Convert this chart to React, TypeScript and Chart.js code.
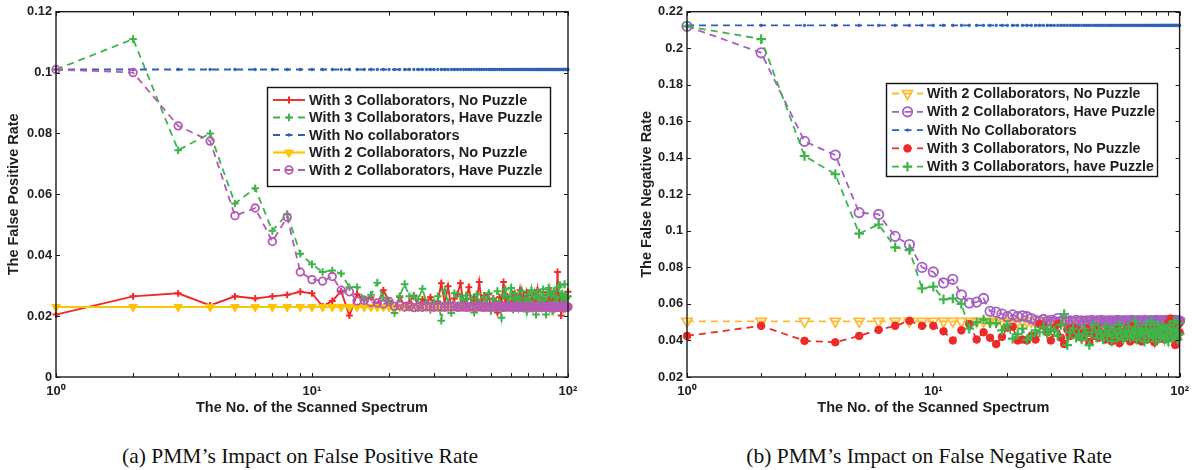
import React, { useEffect, useRef } from 'react';
import { Chart, registerables } from 'chart.js';
import { drawPoint } from 'chart.js/helpers';

Chart.register(...registerables);

// ---------- data ----------
const spectrumCount = [
  1, 2, 3, 4, 5, 6, 7, 8, 9, 10,
  11, 12, 13, 14, 15, 16, 17, 18, 19, 20,
  21, 22, 23, 24, 25, 26, 27, 28, 29, 30,
  31, 32, 33, 34, 35, 36, 37, 38, 39, 40,
  41, 42, 43, 44, 45, 46, 47, 48, 49, 50,
  51, 52, 53, 54, 55, 56, 57, 58, 59, 60,
  61, 62, 63, 64, 65, 66, 67, 68, 69, 70,
  71, 72, 73, 74, 75, 76, 77, 78, 79, 80,
  81, 82, 83, 84, 85, 86, 87, 88, 89, 90,
  91, 92, 93, 94, 95, 96, 97, 98, 99, 100,
];

const xTickValues = [1, 2, 3, 4, 5, 6, 7, 8, 9, 10, 20, 30, 40, 50, 60, 70, 80, 90, 100];
const xTickLabels = ['10\u2070', '10\u00B9', '10\u00B2'];
const fprTicks = [0, 0.02, 0.04, 0.06, 0.08, 0.1, 0.12];
const fnrTicks = [0.02, 0.04, 0.06, 0.08, 0.1, 0.12, 0.14, 0.16, 0.18, 0.2, 0.22];

// (a) false positive rate
const fpr3NoPuzzle = [
  0.0205, 0.0265, 0.0275, 0.0235, 0.0265, 0.0258, 0.0265, 0.027, 0.028, 0.0275,
  0.0232, 0.025, 0.0282, 0.0202, 0.0272, 0.0255, 0.0262, 0.0238, 0.0285, 0.025,
  0.0228, 0.0262, 0.0235, 0.0245, 0.0268, 0.0232, 0.0255, 0.0245, 0.0262, 0.0238,
  0.0248, 0.0308, 0.0242, 0.0298, 0.0225, 0.0258, 0.0272, 0.0308, 0.0248, 0.0255,
  0.0295, 0.0238, 0.0262, 0.0248, 0.0312, 0.0242, 0.0268, 0.0238, 0.0272, 0.0222,
  0.0258, 0.0248, 0.0212, 0.0262, 0.0245, 0.0312, 0.0238, 0.0265, 0.0248, 0.0228,
  0.0272, 0.0245, 0.0262, 0.0228, 0.0285, 0.0242, 0.0265, 0.0232, 0.0278, 0.0248,
  0.0238, 0.0268, 0.0228, 0.0275, 0.0245, 0.0285, 0.0232, 0.0262, 0.0242, 0.0278,
  0.0252, 0.0228, 0.0268, 0.0238, 0.0282, 0.0242, 0.0262, 0.0228, 0.0275, 0.0245,
  0.0345, 0.0235, 0.0268, 0.0202, 0.0255, 0.0242, 0.0265, 0.0232, 0.0262, 0.028,
];
const fpr3Puzzle = [
  0.101, 0.111, 0.0745, 0.08, 0.057, 0.062, 0.048, 0.0535, 0.0405, 0.037,
  0.0345, 0.035, 0.034, 0.0295, 0.0295, 0.0255, 0.027, 0.031, 0.026, 0.0245,
  0.021, 0.0265, 0.0305, 0.0265, 0.0265, 0.0255, 0.029, 0.0245, 0.022, 0.0245,
  0.0265, 0.0185, 0.0285, 0.0245, 0.021, 0.0275, 0.0235, 0.0265, 0.0252, 0.0268,
  0.0225, 0.0258, 0.0212, 0.0272, 0.0245, 0.0228, 0.0262, 0.0242, 0.0275, 0.0218,
  0.0255, 0.0235, 0.0282, 0.0245, 0.0195, 0.0268, 0.0288, 0.0238, 0.0258, 0.0292,
  0.0222, 0.0275, 0.0245, 0.0262, 0.0228, 0.0282, 0.0235, 0.0258, 0.0215, 0.0272,
  0.0248, 0.0285, 0.0232, 0.0265, 0.0205, 0.0278, 0.0242, 0.0262, 0.0225, 0.0288,
  0.0252, 0.0205, 0.0272, 0.0292, 0.0235, 0.0268, 0.0215, 0.0282, 0.0245, 0.0262,
  0.0228, 0.0295, 0.0302, 0.0242, 0.0275, 0.0222, 0.0305, 0.0258, 0.0238, 0.0265,
];
const fprNoCollab = [
  0.101, 0.101, 0.101, 0.101, 0.101, 0.101, 0.101, 0.101, 0.101, 0.101,
  0.101, 0.101, 0.101, 0.101, 0.101, 0.101, 0.101, 0.101, 0.101, 0.101,
  0.101, 0.101, 0.101, 0.101, 0.101, 0.101, 0.101, 0.101, 0.101, 0.101,
  0.101, 0.101, 0.101, 0.101, 0.101, 0.101, 0.101, 0.101, 0.101, 0.101,
  0.101, 0.101, 0.101, 0.101, 0.101, 0.101, 0.101, 0.101, 0.101, 0.101,
  0.101, 0.101, 0.101, 0.101, 0.101, 0.101, 0.101, 0.101, 0.101, 0.101,
  0.101, 0.101, 0.101, 0.101, 0.101, 0.101, 0.101, 0.101, 0.101, 0.101,
  0.101, 0.101, 0.101, 0.101, 0.101, 0.101, 0.101, 0.101, 0.101, 0.101,
  0.101, 0.101, 0.101, 0.101, 0.101, 0.101, 0.101, 0.101, 0.101, 0.101,
  0.101, 0.101, 0.101, 0.101, 0.101, 0.101, 0.101, 0.101, 0.101, 0.101,
];
const fpr2NoPuzzle = [
  0.023, 0.023, 0.023, 0.023, 0.023, 0.023, 0.023, 0.023, 0.023, 0.023,
  0.023, 0.023, 0.023, 0.023, 0.023, 0.023, 0.023, 0.023, 0.023, 0.023,
  0.023, 0.023, 0.023, 0.023, 0.023, 0.023, 0.023, 0.023, 0.023, 0.023,
  0.023, 0.023, 0.023, 0.023, 0.023, 0.023, 0.023, 0.023, 0.023, 0.023,
  0.023, 0.023, 0.023, 0.023, 0.023, 0.023, 0.023, 0.023, 0.023, 0.023,
  0.023, 0.023, 0.023, 0.023, 0.023, 0.023, 0.023, 0.023, 0.023, 0.023,
  0.023, 0.023, 0.023, 0.023, 0.023, 0.023, 0.023, 0.023, 0.023, 0.023,
  0.023, 0.023, 0.023, 0.023, 0.023, 0.023, 0.023, 0.023, 0.023, 0.023,
  0.023, 0.023, 0.023, 0.023, 0.023, 0.023, 0.023, 0.023, 0.023, 0.023,
  0.023, 0.023, 0.023, 0.023, 0.023, 0.023, 0.023, 0.023, 0.023, 0.023,
];
const fpr2Puzzle = [
  0.101, 0.1, 0.0825, 0.0775, 0.053, 0.0555, 0.0445, 0.0525, 0.0345, 0.032,
  0.0315, 0.033, 0.0285, 0.028, 0.025, 0.0252, 0.0245, 0.0243, 0.024, 0.0248,
  0.0232, 0.0235, 0.023, 0.0232, 0.0228, 0.023, 0.0229, 0.0231, 0.023, 0.0229,
  0.0231, 0.023, 0.0229, 0.0231, 0.023, 0.0232, 0.0229, 0.023, 0.0231, 0.0229,
  0.023, 0.0231, 0.0229, 0.023, 0.0232, 0.023, 0.0229, 0.0231, 0.023, 0.0229,
  0.0231, 0.023, 0.0229, 0.0231, 0.023, 0.0229, 0.0231, 0.023, 0.0232, 0.0229,
  0.023, 0.0231, 0.0229, 0.023, 0.0231, 0.0229, 0.023, 0.0231, 0.023, 0.0229,
  0.0231, 0.023, 0.0229, 0.0231, 0.023, 0.0229, 0.0231, 0.023, 0.0229, 0.0231,
  0.023, 0.0229, 0.0231, 0.023, 0.0229, 0.0231, 0.023, 0.0229, 0.0231, 0.023,
  0.0229, 0.0231, 0.023, 0.0229, 0.0231, 0.023, 0.0229, 0.0231, 0.023, 0.023,
];

// (b) false negative rate
const fnr2NoPuzzle = [
  0.0505, 0.0505, 0.0505, 0.0505, 0.0505, 0.0505, 0.0505, 0.0505, 0.0505, 0.0505,
  0.0505, 0.0505, 0.0505, 0.0505, 0.0505, 0.0505, 0.0505, 0.0505, 0.0505, 0.0505,
  0.0505, 0.0505, 0.0505, 0.0505, 0.0505, 0.0505, 0.0505, 0.0505, 0.0505, 0.0505,
  0.0505, 0.0505, 0.0505, 0.0505, 0.0505, 0.0505, 0.0505, 0.0505, 0.0505, 0.0505,
  0.0505, 0.0505, 0.0505, 0.0505, 0.0505, 0.0505, 0.0505, 0.0505, 0.0505, 0.0505,
  0.0505, 0.0505, 0.0505, 0.0505, 0.0505, 0.0505, 0.0505, 0.0505, 0.0505, 0.0505,
  0.0505, 0.0505, 0.0505, 0.0505, 0.0505, 0.0505, 0.0505, 0.0505, 0.0505, 0.0505,
  0.0505, 0.0505, 0.0505, 0.0505, 0.0505, 0.0505, 0.0505, 0.0505, 0.0505, 0.0505,
  0.0505, 0.0505, 0.0505, 0.0505, 0.0505, 0.0505, 0.0505, 0.0505, 0.0505, 0.0505,
  0.0505, 0.0505, 0.0505, 0.0505, 0.0505, 0.0505, 0.0505, 0.0505, 0.0505, 0.0505,
];
const fnr2Puzzle = [
  0.212, 0.1975, 0.149, 0.1415, 0.11, 0.109, 0.097, 0.0925, 0.08, 0.0775,
  0.0715, 0.0735, 0.065, 0.0605, 0.061, 0.063, 0.056, 0.0555, 0.0545, 0.053,
  0.054, 0.053, 0.0535, 0.053, 0.052, 0.051, 0.0505, 0.0515, 0.0505, 0.051,
  0.0505, 0.052, 0.0505, 0.051, 0.0505, 0.0508, 0.0503, 0.051, 0.0505, 0.0508,
  0.0503, 0.0508, 0.0505, 0.051, 0.0503, 0.0507, 0.0505, 0.051, 0.0503, 0.0508,
  0.0505, 0.0509, 0.0503, 0.0507, 0.0505, 0.051, 0.0503, 0.0508, 0.0505, 0.0509,
  0.0503, 0.0507, 0.0505, 0.051, 0.0503, 0.0508, 0.0505, 0.0509, 0.0503, 0.0507,
  0.0505, 0.051, 0.0503, 0.0508, 0.0505, 0.0509, 0.0503, 0.0507, 0.0505, 0.051,
  0.0503, 0.0508, 0.0505, 0.0509, 0.0503, 0.0507, 0.0505, 0.051, 0.0503, 0.0508,
  0.0505, 0.0509, 0.0503, 0.0507, 0.0505, 0.051, 0.0503, 0.0508, 0.0505, 0.0507,
];
const fnrNoCollab = [
  0.2125, 0.2125, 0.2125, 0.2125, 0.2125, 0.2125, 0.2125, 0.2125, 0.2125, 0.2125,
  0.2125, 0.2125, 0.2125, 0.2125, 0.2125, 0.2125, 0.2125, 0.2125, 0.2125, 0.2125,
  0.2125, 0.2125, 0.2125, 0.2125, 0.2125, 0.2125, 0.2125, 0.2125, 0.2125, 0.2125,
  0.2125, 0.2125, 0.2125, 0.2125, 0.2125, 0.2125, 0.2125, 0.2125, 0.2125, 0.2125,
  0.2125, 0.2125, 0.2125, 0.2125, 0.2125, 0.2125, 0.2125, 0.2125, 0.2125, 0.2125,
  0.2125, 0.2125, 0.2125, 0.2125, 0.2125, 0.2125, 0.2125, 0.2125, 0.2125, 0.2125,
  0.2125, 0.2125, 0.2125, 0.2125, 0.2125, 0.2125, 0.2125, 0.2125, 0.2125, 0.2125,
  0.2125, 0.2125, 0.2125, 0.2125, 0.2125, 0.2125, 0.2125, 0.2125, 0.2125, 0.2125,
  0.2125, 0.2125, 0.2125, 0.2125, 0.2125, 0.2125, 0.2125, 0.2125, 0.2125, 0.2125,
  0.2125, 0.2125, 0.2125, 0.2125, 0.2125, 0.2125, 0.2125, 0.2125, 0.2125, 0.2125,
];
const fnr3NoPuzzle = [
  0.0425, 0.048, 0.0398, 0.039, 0.0425, 0.0458, 0.048, 0.0508, 0.048, 0.048,
  0.045, 0.04, 0.0455, 0.049, 0.0405, 0.0445, 0.0415, 0.038, 0.042, 0.047,
  0.0475, 0.04, 0.0405, 0.04, 0.0425, 0.0405, 0.049, 0.048, 0.0445, 0.04,
  0.0465, 0.049, 0.0415, 0.038, 0.046, 0.0425, 0.047, 0.044, 0.0455, 0.0415,
  0.0435, 0.0465, 0.039, 0.0445, 0.0425, 0.047, 0.0415, 0.0445, 0.043, 0.0405,
  0.0455, 0.0425, 0.0395, 0.0445, 0.042, 0.046, 0.0385, 0.0435, 0.0445, 0.0415,
  0.0465, 0.043, 0.0395, 0.048, 0.0425, 0.0445, 0.0405, 0.0455, 0.0435, 0.0395,
  0.0465, 0.0425, 0.045, 0.0405, 0.0438, 0.0465, 0.0415, 0.0448, 0.039, 0.0455,
  0.0425, 0.0468, 0.041, 0.0445, 0.0428, 0.0472, 0.0405, 0.0452, 0.0435, 0.0495,
  0.0415, 0.052, 0.0445, 0.0425, 0.0462, 0.0375, 0.0438, 0.0412, 0.0488, 0.0445,
];
const fnr3Puzzle = [
  0.212, 0.205, 0.141, 0.131, 0.0985, 0.1035, 0.091, 0.0895, 0.0685, 0.0695,
  0.0625, 0.063, 0.06, 0.0465, 0.05, 0.0515, 0.0495, 0.0495, 0.0455, 0.0485,
  0.041, 0.0435, 0.0465, 0.0405, 0.0425, 0.0455, 0.0445, 0.0475, 0.0435, 0.0465,
  0.0455, 0.0425, 0.0485, 0.0545, 0.0375, 0.0445, 0.0465, 0.0415, 0.0435, 0.0405,
  0.0465, 0.0425, 0.0375, 0.0445, 0.0485, 0.0415, 0.0455, 0.0435, 0.0405, 0.0475,
  0.0425, 0.0455, 0.0395, 0.0465, 0.0435, 0.0415, 0.0485, 0.0445, 0.0405, 0.0455,
  0.0425, 0.0475, 0.0415, 0.0445, 0.0435, 0.0505, 0.0405, 0.0455, 0.0425, 0.0465,
  0.0435, 0.0395, 0.0485, 0.0445, 0.0415, 0.0455, 0.0505, 0.0425, 0.0465, 0.0395,
  0.0445, 0.0485, 0.0415, 0.0455, 0.0425, 0.0475, 0.0405, 0.0465, 0.0435, 0.0395,
  0.0485, 0.0445, 0.0415, 0.0465, 0.0505, 0.0425, 0.0455, 0.0405, 0.0495, 0.0435,
];

// ---------- styling ----------
const RED = '#ee2b2b';
const GREEN = '#3db54a';
const BLUE = '#2c5fb9';
const GOLD = '#ffc400';
const GOLD_B = '#fdbb33';
const PURPLE = '#b55ab3';
const PURPLE_B = '#a55ec2';
const DASH = [7, 5];
const TEXT = '#1e1e1e';
const FONT = 'Liberation Sans';

type SeriesSpec = {
  label: string;
  data: number[];
  color: string;
  dashed: boolean;
  width: number;
  pointStyle: string;
  radius: number;
  rotation?: number;
  fill: string;
  pointWidth: number;
};

type PanelSpec = {
  series: SeriesSpec[];
  yTicks: number[];
  yTitle: string;
  padding: { left: number; right: number; top: number; bottom: number };
  yWidth: number;
  yTitlePad: number;
  legend: { x: number; y: number; w: number; h: number; row0: number; step: number; sx0: number; sx1: number; tx: number; size: number };
};

const panelA: PanelSpec = {
  series: [
    { label: 'With 3 Collaborators, No Puzzle', data: fpr3NoPuzzle, color: RED, dashed: false, width: 1.9, pointStyle: 'cross', radius: 3.4, fill: RED, pointWidth: 2 },
    { label: 'With 3 Collaborators, Have Puzzle', data: fpr3Puzzle, color: GREEN, dashed: true, width: 1.8, pointStyle: 'cross', radius: 3.8, fill: GREEN, pointWidth: 2 },
    { label: 'With No collaborators', data: fprNoCollab, color: BLUE, dashed: true, width: 1.8, pointStyle: 'circle', radius: 1.4, fill: BLUE, pointWidth: 0.5 },
    { label: 'With 2 Collaborators, No Puzzle', data: fpr2NoPuzzle, color: GOLD, dashed: false, width: 2.2, pointStyle: 'triangle', rotation: 180, radius: 5, fill: GOLD, pointWidth: 1 },
    { label: 'With 2 Collaborators, Have Puzzle', data: fpr2Puzzle, color: PURPLE, dashed: true, width: 1.8, pointStyle: 'circle', radius: 3.8, fill: 'rgba(0,0,0,0)', pointWidth: 1.8 },
  ],
  yTicks: fprTicks,
  yTitle: 'The False Positive Rate',
  padding: { left: 0, right: 30, top: 9.5, bottom: 0 },
  yWidth: 56,
  yTitlePad: 5.3,
  legend: { x: 267, y: 87, w: 283, h: 99, row0: 100, step: 17.5, sx0: 273, sx1: 305, tx: 309, size: 14.5 },
};

const panelB: PanelSpec = {
  series: [
    { label: 'With 2 Collaborators, No Puzzle', data: fnr2NoPuzzle, color: GOLD_B, dashed: true, width: 1.8, pointStyle: 'triangle', rotation: 180, radius: 5.8, fill: 'rgba(0,0,0,0)', pointWidth: 1.8 },
    { label: 'With 2 Collaborators, Have Puzzle', data: fnr2Puzzle, color: PURPLE_B, dashed: true, width: 1.8, pointStyle: 'circle', radius: 4.7, fill: 'rgba(0,0,0,0)', pointWidth: 1.8 },
    { label: 'With No Collaborators', data: fnrNoCollab, color: BLUE, dashed: true, width: 1.8, pointStyle: 'circle', radius: 1.4, fill: BLUE, pointWidth: 0.5 },
    { label: 'With 3 Collaborators, No Puzzle', data: fnr3NoPuzzle, color: RED, dashed: true, width: 1.8, pointStyle: 'circle', radius: 3.8, fill: RED, pointWidth: 1 },
    { label: 'With 3 Collaborators, have Puzzle', data: fnr3Puzzle, color: GREEN, dashed: true, width: 1.8, pointStyle: 'cross', radius: 4.8, fill: GREEN, pointWidth: 2.2 },
  ],
  yTicks: fnrTicks,
  yTitle: 'The False Negative Rate',
  padding: { left: 34, right: 13, top: 7.5, bottom: 0 },
  yWidth: 55,
  yTitlePad: 6.3,
  legend: { x: 288, y: 83, w: 271, h: 93, row0: 93.5, step: 18.3, sx0: 294, sx1: 325, tx: 329, size: 14.2 },
};

const fmt = (v: number) => String(Number(v.toFixed(3)));

function makeChart(canvas: HTMLCanvasElement, p: PanelSpec) {
  const n = p.series.length;
  const datasets = p.series.map((s, i) => ({
    label: s.label,
    data: spectrumCount.map((x, k) => ({ x, y: s.data[k] })),
    borderColor: s.color,
    borderWidth: s.width,
    borderDash: s.dashed ? DASH : [],
    pointStyle: s.pointStyle,
    pointRadius: s.radius,
    pointRotation: s.rotation || 0,
    pointBackgroundColor: s.fill,
    pointBorderColor: s.color,
    pointBorderWidth: s.pointWidth,
    pointHoverRadius: s.radius,
    tension: 0,
    clip: false as any,
    order: n - 1 - i,
  }));

  const frame = {
    id: 'frame',
    afterDatasetsDraw(chart: any) {
      const { ctx, chartArea, scales } = chart;
      const { left, right, top, bottom } = chartArea;
      ctx.save();
      ctx.setLineDash([]);
      ctx.strokeStyle = '#1a1a1a';
      ctx.lineWidth = 1;
      ctx.beginPath();
      for (const v of xTickValues) {
        const px = Math.round(scales.x.getPixelForValue(v)) + 0.5;
        ctx.moveTo(px, bottom);
        ctx.lineTo(px, bottom - 4);
        ctx.moveTo(px, top);
        ctx.lineTo(px, top + 4);
      }
      for (const v of p.yTicks) {
        const py = Math.round(scales.y.getPixelForValue(v)) + 0.5;
        ctx.moveTo(left, py);
        ctx.lineTo(left + 4, py);
        ctx.moveTo(right, py);
        ctx.lineTo(right - 4, py);
      }
      ctx.stroke();
      ctx.lineWidth = 1.4;
      ctx.strokeRect(left, top, right - left, bottom - top);
      ctx.restore();
    },
    afterDraw(chart: any) {
      const { ctx } = chart;
      const L = p.legend;
      ctx.save();
      ctx.fillStyle = '#ffffff';
      ctx.fillRect(L.x, L.y, L.w, L.h);
      ctx.strokeStyle = '#111';
      ctx.lineWidth = 1.4;
      ctx.setLineDash([]);
      ctx.strokeRect(L.x + 0.5, L.y + 0.5, L.w, L.h);
      p.series.forEach((s, row) => {
        const cy = L.row0 + row * L.step;
        ctx.strokeStyle = s.color;
        ctx.lineWidth = s.width;
        ctx.setLineDash(s.dashed ? [7, 5.5] : []);
        ctx.beginPath();
        ctx.moveTo(L.sx0, cy);
        ctx.lineTo(L.sx1, cy);
        ctx.stroke();
        ctx.setLineDash([]);
        ctx.fillStyle = s.fill;
        ctx.lineWidth = s.pointWidth;
        drawPoint(ctx, { pointStyle: s.pointStyle as any, rotation: s.rotation || 0, radius: s.radius, borderWidth: s.pointWidth }, (L.sx0 + L.sx1) / 2, cy);
        ctx.fillStyle = TEXT;
        ctx.font = `bold ${L.size}px "${FONT}"`;
        ctx.textBaseline = 'middle';
        ctx.textAlign = 'left';
        ctx.fillText(s.label, L.tx, cy + 0.5);
      });
      ctx.restore();
    },
  };

  return new Chart(canvas, {
    type: 'line',
    data: { datasets: datasets as any },
    plugins: [frame],
    options: {
      responsive: false,
      animation: false,
      devicePixelRatio: 1,
      layout: { padding: p.padding },
      plugins: { legend: { display: false }, tooltip: { enabled: false } },
      scales: {
        x: {
          type: 'logarithmic',
          min: 1,
          max: 100,
          grid: { display: false, drawTicks: false },
          border: { display: false },
          afterFit: (s: any) => { s.height = 43; },
          ticks: {
            autoSkip: false,
            maxRotation: 0,
            padding: 7,
            color: TEXT,
            font: { family: FONT, size: 13, weight: 'bold' },
            callback: (v: any) => {
              const val = Number(v);
              if (Math.abs(val - 1) < 1e-9) return xTickLabels[0];
              if (Math.abs(val - 10) < 1e-9) return xTickLabels[1];
              if (Math.abs(val - 100) < 1e-9) return xTickLabels[2];
              return '';
            },
          },
          title: {
            display: true,
            text: 'The No. of the Scanned Spectrum',
            color: TEXT,
            font: { family: FONT, size: 14.5, weight: 'bold' },
            padding: { top: 0, bottom: 3.5 },
          },
        },
        y: {
          type: 'linear',
          min: p.yTicks[0],
          max: p.yTicks[p.yTicks.length - 1],
          grid: { display: false, drawTicks: false },
          border: { display: false },
          afterFit: (s: any) => { s.width = p.yWidth; },
          afterBuildTicks: (s: any) => { s.ticks = p.yTicks.map((v) => ({ value: v })); },
          ticks: {
            padding: 4,
            color: TEXT,
            font: { family: FONT, size: 12.8, weight: 'bold' },
            callback: (v: any) => fmt(Number(v)),
          },
          title: {
            display: true,
            text: p.yTitle,
            color: TEXT,
            font: { family: FONT, size: 14.5, weight: 'bold' },
            padding: { top: p.yTitlePad, bottom: 0 },
          },
        },
      },
    } as any,
  });
}

function Panel({ spec, left }: { spec: PanelSpec; left: number }) {
  const ref = useRef<HTMLCanvasElement>(null);
  useEffect(() => {
    if (!ref.current) return;
    const c = makeChart(ref.current, spec);
    return () => c.destroy();
  }, [spec]);
  return (
    <canvas
      ref={ref}
      width={598}
      height={420}
      style={{ position: 'absolute', left, top: 0, width: 598, height: 420, display: 'block' }}
    />
  );
}

const captionStyle: React.CSSProperties = {
  position: 'absolute',
  top: 442,
  width: 600,
  textAlign: 'center',
  fontFamily: '"Liberation Serif", serif',
  fontSize: 21.5,
  lineHeight: '28px',
  color: '#111',
  whiteSpace: 'nowrap',
};

export default function App() {
  return (
    <div style={{ position: 'absolute', left: 0, top: 0, width: 1196, height: 470, background: '#fff' }}>
      <Panel spec={panelA} left={0} />
      <Panel spec={panelB} left={598} />
      <div style={{ ...captionStyle, left: 0 }}>(a) PMM’s Impact on False Positive Rate</div>
      <div style={{ ...captionStyle, left: 629 }}>(b) PMM’s Impact on False Negative Rate</div>
    </div>
  );
}
